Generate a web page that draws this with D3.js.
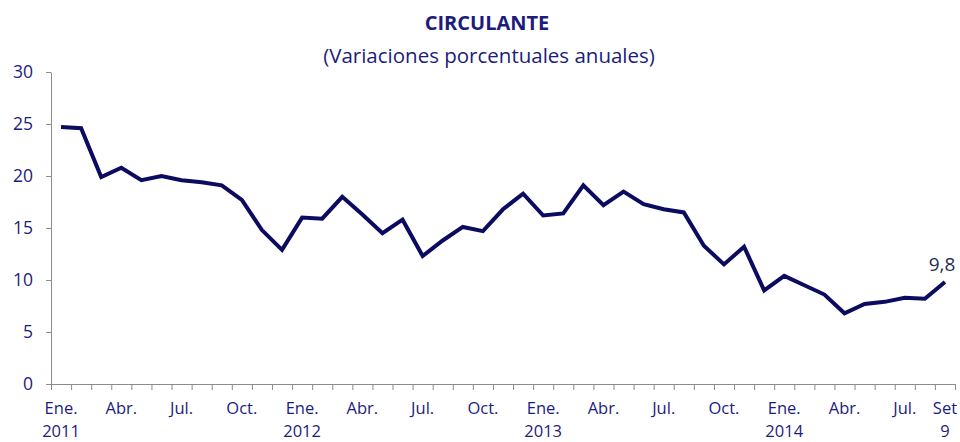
<!DOCTYPE html>
<html>
<head>
<meta charset="utf-8">
<script src="https://cdn.jsdelivr.net/npm/d3@7"></script>
<style>
  body { margin: 0; background: #fff; }
</style>
</head>
<body>
<svg id="chart" width="960" height="442"></svg>
<script>
const svg = d3.select("#chart");
const fontFamily = "'Open Sans', sans-serif";
const textColor = "#1c1c7c";

// variaciones porcentuales anuales, ene 2011 - set 2014
const values = [
  24.7, 24.6, 19.9, 20.8, 19.6, 20.0, 19.6, 19.4, 19.1, 17.7, 14.8, 12.9,
  16.0, 15.9, 18.0, 16.3, 14.5, 15.8, 12.3, 13.8, 15.1, 14.7, 16.8, 18.3,
  16.2, 16.4, 19.1, 17.2, 18.5, 17.3, 16.8, 16.5, 13.3, 11.5, 13.2, 9.0,
  10.4, 9.5, 8.6, 6.8, 7.7, 7.9, 8.3, 8.2, 9.8
];
// etiquetas del eje x (cada 3 meses) : indice, mes, linea 2
const monthLabels = [
  [0, "Ene.", "2011"], [3, "Abr.", ""], [6, "Jul.", ""], [9, "Oct.", ""],
  [12, "Ene.", "2012"], [15, "Abr.", ""], [18, "Jul.", ""], [21, "Oct.", ""],
  [24, "Ene.", "2013"], [27, "Abr.", ""], [30, "Jul.", ""], [33, "Oct.", ""],
  [36, "Ene.", "2014"], [39, "Abr.", ""], [42, "Jul.", ""], [44, "Set", "9"]
];
const yTicks = [0, 5, 10, 15, 20, 25, 30];

const plot = {left: 51, right: 955, top: 72, bottom: 384};

// x: limites de cada mes, los puntos van al centro
const x = d3.scaleLinear().domain([0, values.length]).range([plot.left, plot.right]);
const y = d3.scaleLinear().domain([0, 30]).range([plot.bottom, plot.top]);

// titulo
svg.append("text")
  .attr("x", 487).attr("y", 30)
  .attr("text-anchor", "middle")
  .attr("font-family", fontFamily).attr("font-weight", "bold")
  .attr("font-size", 20).attr("fill", textColor)
  .text("CIRCULANTE");
svg.append("text")
  .attr("x", 489).attr("y", 63)
  .attr("text-anchor", "middle")
  .attr("font-family", fontFamily)
  .attr("font-size", 20.5).attr("fill", textColor)
  .text("(Variaciones porcentuales anuales)");

// eje y
const gy = svg.append("g")
  .attr("transform", `translate(${plot.left},0)`)
  .call(d3.axisLeft(y).tickValues(yTicks).tickSize(5).tickSizeOuter(0).tickPadding(13));
gy.select(".domain").attr("stroke", "#8c8c8c");
gy.selectAll(".tick line").attr("stroke", "#8c8c8c");
gy.selectAll(".tick text")
  .attr("font-family", fontFamily).attr("font-size", 17.5).attr("fill", textColor);

// eje x
const gx = svg.append("g")
  .attr("transform", `translate(0,${plot.bottom})`)
  .call(d3.axisBottom(x).tickValues(d3.range(values.length + 1)).tickSize(6).tickSizeOuter(0).tickFormat(""));
gx.select(".domain").attr("stroke", "#8c8c8c");
gx.selectAll(".tick line").attr("stroke", "#8c8c8c");

const lbl = svg.append("g")
  .attr("font-family", fontFamily).attr("font-size", 16.5).attr("fill", textColor)
  .attr("text-anchor", "middle");
lbl.selectAll("text.m")
  .data(monthLabels)
  .join("text")
  .attr("class", "m")
  .attr("x", d => x(d[0] + 0.5))
  .attr("y", 414)
  .text(d => d[1]);
lbl.selectAll("text.yr")
  .data(monthLabels.filter(d => d[2] !== ""))
  .join("text")
  .attr("class", "yr")
  .attr("x", d => x(d[0] + 0.5))
  .attr("y", 437)
  .text(d => d[2]);

// linea
const line = d3.line()
  .x((d, i) => x(i + 0.5))
  .y(d => y(d));

svg.append("path")
  .datum(values)
  .attr("fill", "none")
  .attr("stroke", "#0b0b60")
  .attr("stroke-width", 4)
  .attr("stroke-linejoin", "miter")
  .attr("d", line);

// ultimo dato
const last = values.length - 1;
svg.append("text")
  .attr("x", x(last + 0.5) - 3)
  .attr("y", y(values[last]) - 11)
  .attr("text-anchor", "middle")
  .attr("font-family", fontFamily).attr("font-size", 19).attr("fill", "#1f2f4f")
  .text(String(values[last]).replace(".", ","));
</script>
</body>
</html>
